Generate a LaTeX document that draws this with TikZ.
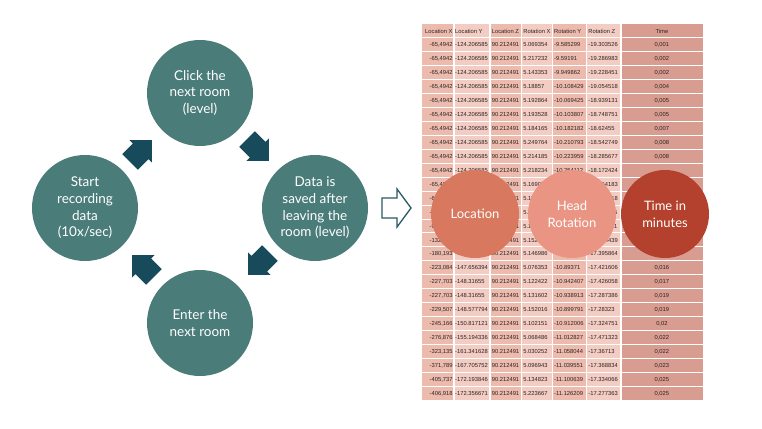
\documentclass[tikz,border=0pt]{standalone}
\usepackage{fontspec}
\setmainfont{Lato}
\newfontfamily\tabfont{Liberation Sans}
\usetikzlibrary{calc}
\definecolor{tealc}{HTML}{4A7C79}
\definecolor{arrowc}{HTML}{174B5B}
\definecolor{hollowc}{HTML}{2A5863}
\definecolor{colA}{HTML}{EDBAAE}
\definecolor{colB}{HTML}{F3CCC3}
\definecolor{colT}{HTML}{D99C90}
\definecolor{tabtext}{HTML}{2B2323}
\definecolor{locc}{HTML}{D7785F}
\definecolor{headc}{HTML}{EA9583}
\definecolor{timec}{HTML}{B3412D}
\tikzset{
  cell/.style={inner sep=0pt, font=\tabfont\fontsize{5.8}{6.5}\selectfont, text=tabtext, text height=4.2pt, text depth=0pt},
  cl/.style={cell, anchor=west},
  cr/.style={cell, anchor=east},
  cc/.style={cell, anchor=center},
  stepc/.style={circle, fill=tealc, text=white, minimum size=106pt, inner sep=0pt, align=center,
    font=\fontsize{13.5}{16.7}\selectfont},
  datac/.style={circle, text=white, minimum size=88pt, inner sep=0pt, align=center,
    font=\fontsize{13}{17}\selectfont},
  cycarrow/.style={fill=arrowc, draw=none},
}
\newcommand\trow[8]{%
  \pgfmathsetmacro{\rowy}{24+(#1+0.5)*13.93}
  \node[cr] (r#1a) at (452.8,\rowy) {#2};
  \node[cl] (r#1b) at (455.0,\rowy) {#3};
  \node[cl] (r#1c) at (491.6,\rowy) {#4};
  \node[cl] (r#1d) at (523.2,\rowy) {#5};
  \node[cl] (r#1e) at (554.0,\rowy) {#6};
  \node[cl] (r#1f) at (588.2,\rowy) {#7};
  \node[cc] (r#1g) at (661.9,\rowy) {#8};
}
\newcommand\cycarrowshape{(-15.5,-11) -- (-0.5,-11) -- (-0.5,-16) -- (15.5,0) -- (-0.5,16) -- (-0.5,11) -- (-15.5,11) -- cycle}
\begin{document}
\begin{tikzpicture}[x=1pt,y=-1pt]
\useasboundingbox (0,0) rectangle (762,428);
\fill[white] (0,0) rectangle (762,428);

% ---- table background ----
\fill[colA] (422.3,24) rectangle (454,400.1);
\fill[colB] (454,24) rectangle (490,400.1);
\fill[colA] (490,24) rectangle (521.7,400.1);
\fill[colB] (521.7,24) rectangle (552.3,400.1);
\fill[colA] (552.3,24) rectangle (586.7,400.1);
\fill[colB] (586.7,24) rectangle (621,400.1);
\fill[colT] (621,24) rectangle (702.7,400.1);
\foreach \i in {1,...,26} {\draw[white, line width=1pt] (422.3,24+\i*13.93) -- (702.7,24+\i*13.93);}
\foreach \xx in {454,490,521.7,552.3,586.7,621} {\draw[white, line width=1.1pt] (\xx,24) -- (\xx,400.1);}

% ---- table text ----
\trow{0}{Location X}{Location Y}{Location Z}{Rotation X}{Rotation Y}{Rotation Z}{Time}
\trow{1}{-65,4942}{-124.206585}{90.212491}{5.069354}{-9.585299}{-19.303526}{0,001}
\trow{2}{-65,4942}{-124.206585}{90.212491}{5.217232}{-9.59191}{-19.286983}{0,002}
\trow{3}{-65,4942}{-124.206585}{90.212491}{5.143353}{-9.949862}{-19.228451}{0,002}
\trow{4}{-65,4942}{-124.206585}{90.212491}{5.18857}{-10.108429}{-19.054518}{0,004}
\trow{5}{-65,4942}{-124.206585}{90.212491}{5.192864}{-10.069425}{-18.939131}{0,005}
\trow{6}{-65,4942}{-124.206585}{90.212491}{5.193528}{-10.103807}{-18.748751}{0,005}
\trow{7}{-65,4942}{-124.206585}{90.212491}{5.184165}{-10.182182}{-18.62455}{0,007}
\trow{8}{-65,4942}{-124.206585}{90.212491}{5.249764}{-10.210793}{-18.542749}{0,008}
\trow{9}{-65,4942}{-124.206585}{90.212491}{5.214185}{-10.223959}{-18.285677}{0,008}
\trow{10}{-65,4942}{-124.206585}{90.212491}{5.218234}{-10.254112}{-18.172424}{}
\trow{11}{-65,4942}{}{90.212491}{5.169021}{}{-18.064183}{}
\trow{12}{-65,4942}{}{90.212491}{5.157412}{}{-17.903218}{}
\trow{13}{-66,1835}{}{}{5.160035}{}{}{}
\trow{14}{-91,2231}{}{90.212491}{5.154420}{}{}{}
\trow{15}{-132,584}{}{90.212491}{5.152261}{}{-17.544439}{}
\trow{16}{-180,193}{-147.078201}{90.212491}{5.146986}{-10.871315}{-17.395864}{0,014}
\trow{17}{-223,084}{-147.656394}{90.212491}{5.076353}{-10.89371}{-17.421606}{0,016}
\trow{18}{-227,703}{-148.31655}{90.212491}{5.122422}{-10.942407}{-17.426058}{0,017}
\trow{19}{-227,703}{-148.31655}{90.212491}{5.131602}{-10.938913}{-17.287386}{0,019}
\trow{20}{-229,507}{-148.577794}{90.212491}{5.152016}{-10.899791}{-17.28323}{0,019}
\trow{21}{-245,166}{-150.817121}{90.212491}{5.102151}{-10.912006}{-17.324751}{0,02}
\trow{22}{-276,876}{-155.194336}{90.212491}{5.068486}{-11.012827}{-17.471323}{0,022}
\trow{23}{-323,135}{-161.341628}{90.212491}{5.030252}{-11.058044}{-17.36713}{0,022}
\trow{24}{-371,789}{-167.705752}{90.212491}{5.096943}{-11.039551}{-17.368834}{0,023}
\trow{25}{-405,737}{-172.193846}{90.212491}{5.134823}{-11.100639}{-17.334066}{0,025}
\trow{26}{-406,918}{-172.356671}{90.212491}{5.223667}{-11.126209}{-17.277363}{0,025}
% visible tails of cells that the circles cover
\node[cr] (r13tail) at (617.5,{24+13.5*13.93}) {5};
\node[cr] (r14tail) at (617.5,{24+14.5*13.93}) {21};

% ---- data circles ----
\node[datac, fill=locc] (loc) at (475,214) {Location};
\node[datac, fill=headc] (head) at (572,214) {Head\\Rotation};
\node[datac, fill=timec] (time) at (665,214) {Time in\\minutes};

% ---- cycle ----
\node[stepc] (click) at (200,93) {Click the\\next room\\(level)};
\node[stepc] (saved) at (315,208) {Data is\\saved after\\leaving the\\room (level)};
\node[stepc] (enter) at (200,323) {Enter the\\next room};
\node[stepc] (start) at (85,208) {Start\\recording\\data\\(10x/sec)};

\coordinate (a1) at (141,151);
\coordinate (a2) at (258,150);
\coordinate (a3) at (259,264);
\coordinate (a4) at (143,266);
\begin{scope}[shift={(a1)}, rotate=45] \fill[cycarrow] \cycarrowshape; \end{scope}
\begin{scope}[shift={(a2)}, rotate=-45] \fill[cycarrow] \cycarrowshape; \end{scope}
\begin{scope}[shift={(a3)}, rotate=-135] \fill[cycarrow] \cycarrowshape; \end{scope}
\begin{scope}[shift={(a4)}, rotate=135] \fill[cycarrow] \cycarrowshape; \end{scope}

% ---- hollow arrow ----
\draw[hollowc, line width=1.3pt, fill=white, line join=miter]
  (382,198) -- (397,198) -- (397,189) -- (411,208) -- (397,227) -- (397,218) -- (382,218) -- cycle;
\end{tikzpicture}
\end{document}
